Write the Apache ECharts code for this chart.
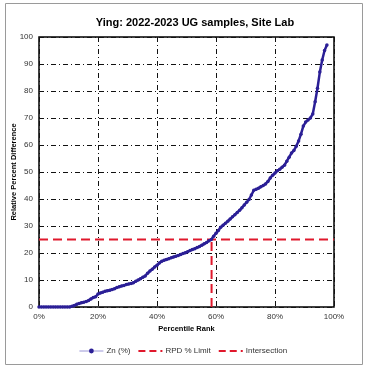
<!DOCTYPE html>
<html><head><meta charset="utf-8">
<script src="https://cdn.jsdelivr.net/npm/echarts@6/dist/echarts.min.js"></script>
<style>html,body{margin:0;padding:0;background:#fff}#c{width:366px;height:369px}</style>
</head><body><div id="c"></div>
<script>
const titleText = 'Ying: 2022-2023 UG samples, Site Lab';
const xTickLabels = ['0%','20%','40%','60%','80%','100%'];
const yTickLabels = ['0','10','20','30','40','50','60','70','80','90','100'];
const rankPct = [0,0.8,1.6,2.4,3.2,4.0,4.8,5.6,6.4,7.2,8.0,8.8,9.6,10.4,
 11.2,12.0,12.8,13.6,14.4,15.2,16.0,16.8,17.6,18.4,19.2,20.0,20.8,21.6,22.4,23.2,24.0,24.8,25.6,26.4,27.2,28.0,28.8,29.6,30.4,31.2,32.0,32.8,33.6,34.4,35.2,36.0,36.8,37.6,38.4,39.2,40.0,40.8,41.6,42.4,43.2,44.0,44.8,45.6,46.4,47.2,48.0,48.8,49.6,50.4,51.2,52.0,52.8,53.6,54.4,55.2,56.0,56.8,57.6,58.4,59.2,60.0,60.8,61.6,62.4,63.2,64.0,64.8,65.6,66.4,67.2,68.0,68.8,69.6,70.4,71.2,72.0,72.8,73.6,74.4,75.2,76.0,76.8,77.6,78.4,79.2,80.0,80.8,81.6,82.4,83.2,84.0,84.8,85.6,86.4,87.2,88.0,88.8,89.6,90.4,91.2,92.0,92.8,93.6,94.4,95.2,96.0,96.8,97.6];
const znRpd = [0,0,0,0,0,0,0,0,0,0,0,0,0,0,
 0.3,0.6,1.0,1.3,1.6,1.8,2.0,2.4,3.0,3.5,3.8,4.8,5.2,5.5,5.8,6.0,6.2,6.5,6.8,7.2,7.5,7.8,8.0,8.3,8.5,8.7,9.0,9.5,10.0,10.5,11.0,11.5,12.5,13.3,14.0,14.8,15.5,16.3,16.9,17.3,17.6,17.9,18.2,18.5,18.8,19.1,19.4,19.8,20.1,20.5,20.9,21.3,21.6,22.0,22.4,22.9,23.4,23.9,24.5,25.0,26.2,27.3,28.3,29.5,30.3,31.0,31.8,32.6,33.4,34.2,35.0,35.8,36.8,37.8,38.8,39.8,41.5,43.2,43.6,44.0,44.5,45.0,45.6,46.5,47.8,48.8,49.6,50.5,51.0,51.8,52.5,54.0,55.5,57.0,58.0,59.5,61.5,64.0,67.0,68.5,69.3,70.0,71.5,76.0,81.0,87.0,91.5,95.0,97.0];
const rpdLimit = 25;
const intersectionRank = 58.5;
const limitLine = [[0, rpdLimit],[100, rpdLimit]];
const intersectLine = [[intersectionRank, 0],[intersectionRank, rpdLimit]];

const chart = echarts.init(document.getElementById('c'), null, {renderer:'canvas'});
const font = 'Liberation Sans, Arial, sans-serif';
const dashDot = [5,3,1,3];
const red = '#e0182c';
chart.setOption({
  animation:false,
  backgroundColor:'#fff',
  title:{text:titleText,left:190,top:12,textAlign:'center',
    textStyle:{fontFamily:font,fontSize:11,fontWeight:'bold',color:'#000'}},
  graphic:[{type:'rect',shape:{x:5.5,y:3.5,width:357,height:361},
    style:{fill:'none',stroke:'#9a9a9a',lineWidth:1},silent:true}],
  grid:{left:39,right:32,top:37,bottom:62,show:true,borderColor:'#000',borderWidth:1.5,
    backgroundColor:'transparent',containLabel:false,outerBoundsMode:'none'},
  legend:{bottom:9,left:'center',itemWidth:24,itemHeight:6,itemGap:7,
    textStyle:{fontFamily:font,fontSize:8,color:'#333',padding:[0,0,0,-2]},
    data:[
      {name:'Zn (%)',lineStyle:{color:'#9a96d6',width:1}},
      {name:'RPD % Limit',itemStyle:{opacity:0},lineStyle:{type:[7,4]}},
      {name:'Intersection',itemStyle:{opacity:0},lineStyle:{type:[7,4]}}
    ]},
  xAxis:{type:'value',min:0,max:100,interval:20,
    name:'Percentile Rank',nameLocation:'middle',nameGap:18,nameMoveOverlap:false,
    nameTextStyle:{fontFamily:font,fontSize:7.5,fontWeight:'bold',color:'#000'},
    axisLine:{show:false},axisTick:{show:false},
    axisLabel:{fontFamily:font,fontSize:8,color:'#333',margin:6,
      formatter:(v)=>xTickLabels[Math.round(v/20)]},
    splitLine:{show:true,lineStyle:{color:'#111',width:1,type:dashDot}}},
  yAxis:{type:'value',min:0,max:100,interval:10,
    name:'Relative Percent Difference',nameLocation:'middle',nameGap:21,nameMoveOverlap:false,
    nameTextStyle:{fontFamily:font,fontSize:7.5,fontWeight:'bold',color:'#000'},
    axisLine:{show:false},axisTick:{show:false},
    axisLabel:{fontFamily:font,fontSize:8,color:'#333',margin:6,
      formatter:(v)=>yTickLabels[Math.round(v/10)]},
    splitLine:{show:true,lineStyle:{color:'#111',width:1,type:dashDot}}},
  series:[
    {name:'Zn (%)',type:'line',data:rankPct.map((r,i)=>[r,znRpd[i]]),
      symbol:'circle',symbolSize:3.5,showSymbol:true,
      itemStyle:{color:'#2b1f96'},lineStyle:{color:'#2b1f96',width:2.5},z:5},
    {name:'RPD % Limit',type:'line',data:limitLine,symbol:'none',
      itemStyle:{color:red},lineStyle:{color:red,width:2,type:[9,5]},z:4},
    {name:'Intersection',type:'line',data:intersectLine,symbol:'none',
      itemStyle:{color:red},lineStyle:{color:red,width:2,type:[9,5]},z:4}
  ]
});
</script></body></html>
